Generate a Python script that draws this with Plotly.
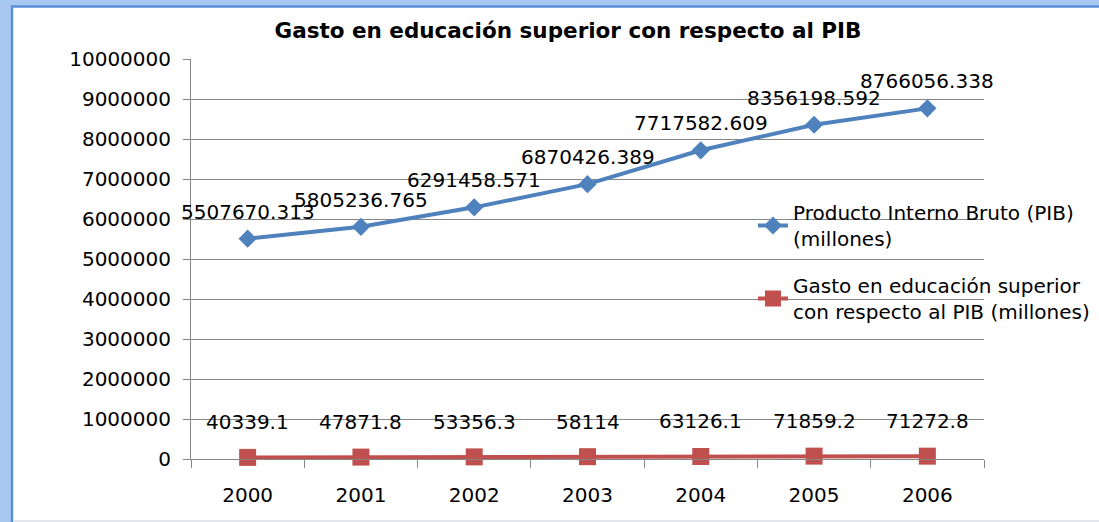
import plotly.graph_objects as go

years = ["2000", "2001", "2002", "2003", "2004", "2005", "2006"]
pib = [5507670.313, 5805236.765, 6291458.571, 6870426.389, 7717582.609, 8356198.592, 8766056.338]
gasto = [40339.1, 47871.8, 53356.3, 58114, 63126.1, 71859.2, 71272.8]

pib_name = "Producto Interno Bruto (PIB)<br>(millones)"
gasto_name = "Gasto en educación superior<br>con respecto al PIB (millones)"

W, H = 1099, 522
L, R, T, B = 191, 115, 59, 63
FONT = "DejaVu Sans"
BLUE = "#4F81BD"
RED = "#C0504D"


def px_x(px):
    return (px - L) / (W - L - R)


def px_y(py):
    return (H - B - py) / (H - T - B)


fig = go.Figure()
fig.add_trace(go.Scatter(
    x=years, y=pib, name=pib_name, mode="lines+markers", legendgroup="pib",
    line=dict(color=BLUE, width=4),
    marker=dict(symbol="diamond", size=14, color=BLUE),
    cliponaxis=False,
))
fig.add_trace(go.Scatter(
    x=years, y=gasto, name=gasto_name, mode="lines+markers", legendgroup="gasto",
    line=dict(color=RED, width=4),
    marker=dict(symbol="square", size=17, color=RED),
    cliponaxis=False,
))

# data labels, placed above each point (category index on x)
annotations = []
for i, v in enumerate(pib):
    annotations.append(dict(x=i, y=v, text=f"{v:.3f}", showarrow=False,
                            yshift=27, font=dict(family=FONT, size=20, color="#000")))
for i, v in enumerate(gasto):
    annotations.append(dict(x=i, y=v, text=f"{v:g}", showarrow=False,
                            yshift=35, font=dict(family=FONT, size=20, color="#000")))

# chart frame like the Excel chart area
shapes = [
    dict(type="rect", xref="paper", yref="paper", layer="below",
         x0=px_x(12), x1=px_x(W + 20), y0=px_y(545), y1=px_y(6.5),
         fillcolor="white", line=dict(color="#5A8ED6", width=2.5)),
    dict(type="line", xref="paper", yref="paper", layer="below",
         x0=px_x(13.5), x1=px_x(W + 20), y0=px_y(521), y1=px_y(521),
         line=dict(color="#E4E7ED", width=2)),
]

fig.update_layout(
    width=W, height=H,
    margin=dict(l=L, r=R, t=T, b=B, pad=0, autoexpand=False),
    paper_bgcolor="#A9C8EF",
    plot_bgcolor="rgba(0,0,0,0)",
    font=dict(family=FONT, size=20, color="#000"),
    title=dict(text="<b>Gasto en educación superior con respecto al PIB</b>",
               font=dict(family=FONT, size=21.5, color="#000"),
               x=568 / W, xanchor="center", xref="container",
               y=1 - 30 / H, yanchor="middle", yref="container"),
    xaxis=dict(type="category", range=[-0.5, 6.5], tickson="boundaries",
               ticks="outside", ticklen=8, tickcolor="#868686",
               ticklabelstandoff=18,
               showgrid=False, showline=True, linecolor="#868686", linewidth=1,
               zeroline=False, tickfont=dict(family=FONT, size=20)),
    yaxis=dict(range=[0, 10000000], dtick=1000000, tickformat="d",
               ticks="outside", ticklen=7, tickcolor="#868686",
               ticklabelstandoff=8,
               showgrid=True, gridcolor="#868686", gridwidth=1,
               showline=True, linecolor="#868686", linewidth=1,
               zeroline=False, tickfont=dict(family=FONT, size=20)),
    legend=dict(x=px_x(753), y=px_y(193), xanchor="left", yanchor="top",
                bgcolor="rgba(0,0,0,0)", font=dict(family=FONT, size=20),
                traceorder="grouped", tracegroupgap=18),
    annotations=annotations,
    shapes=shapes,
)

fig.write_html("out.html", config={"displayModeBar": False},
               post_script="document.body.style.margin='0';")
